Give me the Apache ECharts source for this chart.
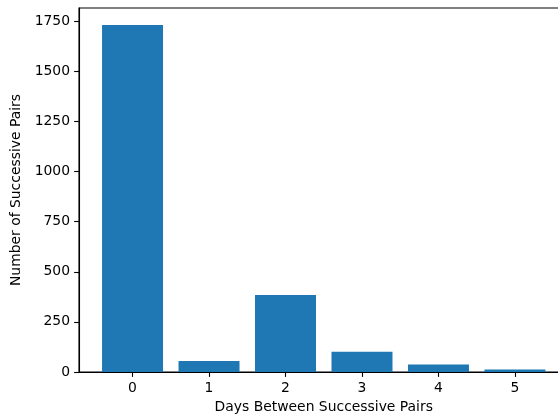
<!DOCTYPE html>
<html>
<head>
<meta charset="utf-8">
<script src="https://cdn.jsdelivr.net/npm/echarts@6/dist/echarts.min.js"></script>
<style>
html,body{margin:0;padding:0;background:#fff;}
#chart{width:558px;height:414px;}
</style>
</head>
<body>
<div id="chart"></div>
<script>
var days = [0, 1, 2, 3, 4, 5];
var counts = [1731, 55, 384, 101, 38, 12];
var yTicks = [0, 250, 500, 750, 1000, 1250, 1500, 1750];
var xLabel = 'Days Between Successive Pairs';
var yLabel = 'Number of Successive Pairs';

var chart = echarts.init(document.getElementById('chart'), null, {renderer: 'canvas'});
var font = 'DejaVu Sans';
var fs = 13.9;
chart.setOption({
  animation: false,
  backgroundColor: '#fff',
  grid: {
    left: 79, top: 8, right: -10.5, bottom: 42,
    outerBoundsMode: 'none', containLabel: false,
    show: true, borderColor: '#000', borderWidth: 1.1, backgroundColor: 'transparent'
  },
  xAxis: {
    type: 'value', min: -0.7, max: 5.7,
    name: xLabel, nameLocation: 'middle', nameGap: 28,
    nameTextStyle: {fontFamily: font, fontSize: fs, color: '#000'},
    axisLine: {show: true, onZero: false, lineStyle: {color: '#000', width: 1.1}},
    axisTick: {show: true, length: 4.9, customValues: days, lineStyle: {color: '#000', width: 1.1}},
    axisLabel: {show: true, customValues: days, margin: 9, fontFamily: font, fontSize: fs, color: '#000',
      formatter: function (v) { return String(Math.round(v)); }},
    splitLine: {show: false}
  },
  yAxis: {
    type: 'value', min: 0, max: 1816,
    name: yLabel, nameLocation: 'middle', nameGap: 48,
    nameTextStyle: {fontFamily: font, fontSize: fs, color: '#000'},
    axisLine: {show: true, onZero: false, lineStyle: {color: '#000', width: 1.1}},
    axisTick: {show: true, length: 4.9, customValues: yTicks, lineStyle: {color: '#000', width: 1.1}},
    axisLabel: {show: true, customValues: yTicks, margin: 9, fontFamily: font, fontSize: fs, color: '#000',
      formatter: function (v) { return String(Math.round(v)); }},
    splitLine: {show: false}
  },
  series: [{
    type: 'bar',
    data: days.map(function (d, i) { return [d, counts[i]]; }),
    barWidth: 61,
    itemStyle: {color: '#1f77b4'}
  }]
});
</script>
</body>
</html>
